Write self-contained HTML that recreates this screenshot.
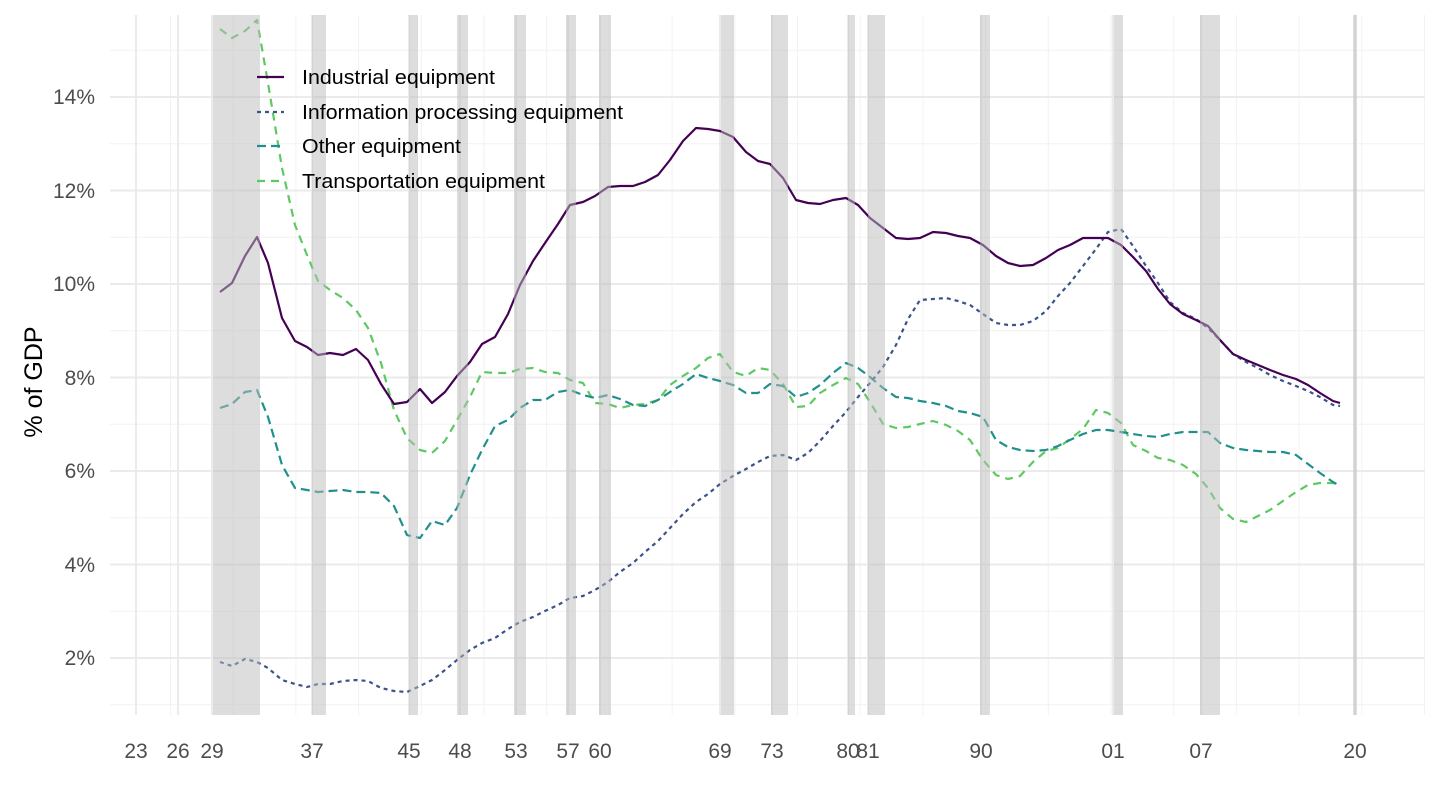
<!DOCTYPE html>
<html><head><meta charset="utf-8"><style>
html,body{margin:0;padding:0;background:#fff;}
svg{display:block;font-family:"Liberation Sans",Arial,sans-serif;}
</style></head><body>
<svg width="1440" height="810" viewBox="0 0 1440 810" xmlns="http://www.w3.org/2000/svg">
<g id="grid">
</g>
<script>
(function(){
var ns="http://www.w3.org/2000/svg",g=document.getElementById('grid');
function ln(x1,y1,x2,y2,w,c){var l=document.createElementNS(ns,'line');l.setAttribute('x1',x1);l.setAttribute('y1',y1);l.setAttribute('x2',x2);l.setAttribute('y2',y2);l.setAttribute('stroke',c);l.setAttribute('stroke-width',w);g.appendChild(l);}
for(var p=1;p<=15;p+=2){var y=658-(p-2)*46.75;ln(110,y,1425,y,1,'#f2f2f2');}
for(var k=0;k<21;k++){var x=170.5+62.7*k;if(x<1425)ln(x,15,x,715,1,'#f2f2f2');}
for(var p=2;p<=14;p+=2){var y=658-(p-2)*46.75;ln(110,y,1425,y,2,'#ebebeb');}
[136,178,212,312,409,460,516,568,600,720,772,848,868,981,1113,1201,1355].forEach(function(x){ln(x,15,x,715,2,'#ebebeb');});
})();
</script>
<g fill="none" stroke-width="2.2" stroke-linejoin="round">
<polyline stroke="#5ec962" stroke-dasharray="8,6" points="220,29 232,38 245,31 257,20 268,83 282,168 295,225 307,255 318,281 330,290 343,298 356,310 368,328 381,363 394,410 407,438 420,450 432,453 445,441 457,420 470,397 482,372 495,373 508,373 520,369 533,368 545,372 558,373 570,380 583,383 595,403 608,404 620,408 633,405 645,404 658,400 670,385 683,376 696,368 708,358 720,354 733,372 746,376 758,368 770,370 783,384 796,407 808,406 820,393 833,385 846,378 858,384 870,402 883,424 896,428 908,427 920,424 933,421 946,425 958,431 970,440 983,460 996,475 1008,479 1020,476 1033,462 1046,451 1058,448 1070,439 1083,429 1096,410 1108,413 1121,423 1133,445 1146,451 1158,458 1170,460 1183,465 1196,474 1208,488 1220,508 1233,519 1246,522 1258,516 1270,510 1283,501 1296,492 1308,485 1320,483 1333,483 1340,485"/>
<polyline stroke="#21908d" stroke-dasharray="9,5" points="220,408 232,404 245,392 257,390 268,417 282,465 295,488 307,490 318,492 330,491 343,490 356,492 368,492 381,493 394,506 407,535 420,538 432,521 445,525 457,508 470,475 482,450 495,426 508,420 520,408 533,400 545,400 558,392 570,390 583,395 595,398 608,395 620,399 633,405 645,406 658,400 670,392 683,384 696,374 708,378 720,381 733,385 746,393 758,393 770,384 783,386 796,397 808,393 820,385 833,373 846,363 858,368 870,377 883,388 896,397 908,398 920,401 933,403 946,406 958,411 970,413 983,417 996,440 1008,447 1020,450 1033,451 1046,450 1058,446 1070,440 1083,434 1096,430 1108,430 1121,432 1133,434 1146,436 1158,437 1170,434 1183,432 1196,432 1208,432 1220,443 1233,448 1246,450 1258,451 1270,452 1283,452 1296,455 1308,464 1320,473 1333,482 1340,486"/>
<polyline stroke="#3b528b" stroke-dasharray="4,4" points="220,662 232,666 245,659 257,662 268,668 282,680 295,684 307,687 318,684 330,684 343,681 356,680 368,681 381,688 394,691 407,692 420,686 432,680 445,670 457,660 470,650 482,643 495,638 508,629 520,622 533,617 545,611 558,605 570,598 583,596 595,590 608,582 620,572 633,563 645,552 658,541 670,528 683,514 696,502 708,494 720,484 733,476 746,469 758,462 770,456 783,455 796,460 808,453 820,441 833,426 846,412 858,397 870,383 883,367 896,345 908,319 920,300 933,299 946,298 958,301 970,305 983,314 996,323 1008,325 1020,325 1033,321 1046,311 1058,296 1070,283 1083,266 1096,249 1108,232 1121,229 1133,246 1146,266 1158,283 1170,302 1183,313 1196,319 1208,328 1220,340 1233,354 1246,362 1258,368 1270,375 1283,381 1296,386 1308,391 1320,397 1333,405 1340,406"/>
<polyline stroke="#440154" points="220,292 232,283 245,256 257,237 268,263 282,318 295,341 307,347 318,355 330,353 343,355 356,349 368,360 381,384 394,404 407,402 420,389 432,403 445,392 457,376 470,362 482,344 495,337 508,314 520,285 533,261 545,243 558,224 570,205 583,202 595,196 608,187 620,186 633,186 645,182 658,175 670,160 683,141 696,128 708,129 720,131 733,137 746,152 758,161 770,164 783,178 796,200 808,203 820,204 833,200 846,198 858,205 870,218 883,228 896,238 908,239 920,238 933,232 946,233 958,236 970,238 983,245 996,256 1008,263 1020,266 1033,265 1046,258 1058,250 1070,245 1083,238 1096,238 1108,238 1121,245 1133,257 1146,271 1158,289 1170,304 1183,314 1196,320 1208,326 1220,340 1233,354 1246,360 1258,365 1270,370 1283,375 1296,379 1308,385 1320,393 1333,401 1340,403"/>
</g>
<g fill="#bbbbbb" fill-opacity="0.5">
<rect x="213" y="15" width="47" height="700"/>
<rect x="312" y="15" width="14" height="700"/>
<rect x="409" y="15" width="9" height="700"/>
<rect x="457" y="15" width="11" height="700"/>
<rect x="514" y="15" width="12" height="700"/>
<rect x="566" y="15" width="10" height="700"/>
<rect x="599" y="15" width="12" height="700"/>
<rect x="721" y="15" width="13" height="700"/>
<rect x="771" y="15" width="17" height="700"/>
<rect x="848" y="15" width="7" height="700"/>
<rect x="868" y="15" width="17" height="700"/>
<rect x="980" y="15" width="10" height="700"/>
<rect x="1114" y="15" width="9" height="700"/>
<rect x="1200" y="15" width="20" height="700"/>
<rect x="1353" y="15" width="4" height="700"/>
</g>
<g font-size="21" fill="#4d4d4d" text-anchor="end">
<text x="95" y="665">2%</text><text x="95" y="572">4%</text><text x="95" y="478">6%</text>
<text x="95" y="385">8%</text><text x="95" y="291">10%</text><text x="95" y="198">12%</text><text x="95" y="104">14%</text>
</g>
<g font-size="21" fill="#4d4d4d" text-anchor="middle">
<text x="136" y="758">23</text><text x="178" y="758">26</text><text x="212" y="758">29</text><text x="312" y="758">37</text>
<text x="409" y="758">45</text><text x="460" y="758">48</text><text x="516" y="758">53</text><text x="568" y="758">57</text>
<text x="600" y="758">60</text><text x="720" y="758">69</text><text x="772" y="758">73</text><text x="848" y="758">80</text>
<text x="868" y="758">81</text><text x="981" y="758">90</text><text x="1113" y="758">01</text><text x="1201" y="758">07</text>
<text x="1355" y="758">20</text>
</g>
<text transform="translate(42,382) rotate(-90)" font-size="25" fill="#000" text-anchor="middle">% of GDP</text>
<g stroke-width="2.2">
<line x1="257" y1="77" x2="284" y2="77" stroke="#440154"/>
<line x1="257" y1="112" x2="284" y2="112" stroke="#3b528b" stroke-dasharray="4,4"/>
<line x1="257" y1="146" x2="284" y2="146" stroke="#21908d" stroke-dasharray="9,5"/>
<line x1="257" y1="181" x2="284" y2="181" stroke="#5ec962" stroke-dasharray="8,6"/>
</g>
<g font-size="20" fill="#000">
<text x="302" y="84" textLength="193" lengthAdjust="spacingAndGlyphs">Industrial equipment</text>
<text x="302" y="119" textLength="321" lengthAdjust="spacingAndGlyphs">Information processing equipment</text>
<text x="302" y="153" textLength="159" lengthAdjust="spacingAndGlyphs">Other equipment</text>
<text x="302" y="188" textLength="243" lengthAdjust="spacingAndGlyphs">Transportation equipment</text>
</g>
</svg>
</body></html>
